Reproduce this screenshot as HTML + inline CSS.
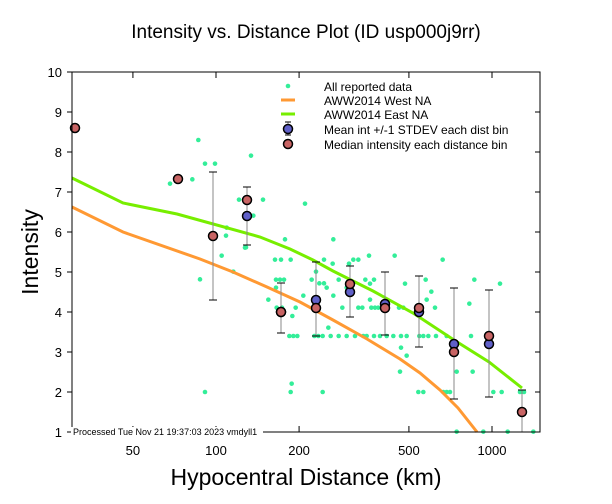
<!DOCTYPE html>
<html><head><meta charset="utf-8"><style>
html,body{margin:0;padding:0;background:#fff;}
svg{display:block;font-family:"Liberation Sans",sans-serif;}
</style></head><body>
<svg id="s" width="612" height="504" viewBox="0 0 612 504" xmlns="http://www.w3.org/2000/svg">
<rect width="612" height="504" fill="#fff"/>
<text x="306" y="38" font-size="19" text-anchor="middle">Intensity vs. Distance Plot (ID usp000j9rr)</text>
<text transform="translate(38,252) rotate(-90)" font-size="23" text-anchor="middle">Intensity</text>
<text x="306" y="485" font-size="23" text-anchor="middle">Hypocentral Distance (km)</text>
<g id="dots" fill="#33ee99"></g>
<polyline fill="none" stroke="#ff9933" stroke-width="3" points="72,207 123,232 200,259 233,272 267,287 300,302 333,320 367,339 400,359 420,373 440,390 458,408 477,432"/>
<polyline fill="none" stroke="#77ee00" stroke-width="3" points="72,178 123,203 177,214 260,237 290,249 313,260 333,271 373,291 413,313 454,340 489,362 522,388"/>
<g id="bars" stroke="#888" stroke-width="1"></g>
<g id="circ" stroke="#000" stroke-width="1.5"></g>
<g stroke="#000" stroke-width="1" fill="none" id="ax"></g>
<g font-size="13" id="lab"></g>
<rect x="71" y="427" width="192" height="10" fill="#fff"/>
<text x="73" y="435" font-size="9">Processed Tue Nov 21 19:37:03 2023 vmdyll1</text>
<g font-size="12">
<circle cx="288" cy="86" r="2.3" fill="#33ee99"/>
<line x1="281" y1="100" x2="295" y2="100" stroke="#ff9933" stroke-width="3"/>
<line x1="281" y1="114" x2="295" y2="114" stroke="#77ee00" stroke-width="3"/>
<line x1="288" y1="122" x2="288" y2="135" stroke="#888"/>
<line x1="285" y1="122" x2="291" y2="122" stroke="#000"/><line x1="285" y1="135" x2="291" y2="135" stroke="#000"/>
<circle cx="288" cy="129" r="4.5" fill="#6060c8" stroke="#000" stroke-width="1.5"/>
<circle cx="288" cy="144" r="4.5" fill="#c86464" stroke="#000" stroke-width="1.5"/>
<text x="324" y="91">All reported data</text>
<text x="324" y="105">AWW2014 West NA</text>
<text x="324" y="119">AWW2014 East NA</text>
<text x="324" y="134">Mean int +/-1 STDEV each dist bin</text>
<text x="324" y="149">Median intensity each distance bin</text>
</g>
</svg>
<script>
var NS="http://www.w3.org/2000/svg";
function el(p,t,a){var e=document.createElementNS(NS,t);for(var k in a)e.setAttribute(k,a[k]);document.getElementById(p).appendChild(e);return e;}
var z1=[[415,240],[435,311],[465,311],[330,371],[397,358],[573,287],[537,419],[609,419],[580,467],[735,431],[500,503],[555,563]];
z1.forEach(function(p){el("dots","circle",{cx:60+p[0]/3,cy:60+p[1]/3,r:2.3});});
var z2=[[65,77],[78,17],[138,52],[255,28],[225,89],[243,89],[272,89],[100,125],[0,148],[228,149],[240,149],[252,149],[228,173],[205,209],[230,233],[246,233],[277,258],[287,233],[310,197],[268,318],[280,318],[292,318],[348,125],[372,89],[398,101],[400,28],[335,149],[358,160],[372,160],[380,173],[416,149],[400,197],[385,293],[368,318],[392,318],[416,318],[343,318],[355,318],[440,318],[465,318],[490,318],[500,318],[522,318],[540,318],[560,318],[580,318],[603,318],[620,318],[658,318],[670,318],[685,318],[708,318],[740,318],[427,233],[440,173],[447,101],[460,89],[475,89],[475,233],[487,233],[496,149],[510,161],[522,149],[507,77],[510,209],[514,233],[525,233],[535,233],[545,233],[584,77],[597,233],[610,233],[615,161],[603,353],[620,377],[600,425],[677,149],[680,209],[705,233],[694,185],[728,89],[655,486],[670,486],[730,486],[740,486],[750,486],[770,425],[808,221],[813,318],[818,425],[823,149],[770,605],[850,605],[880,486],[905,486],[900,161],[960,486],[972,486],[923,605],[1000,605],[15,486],[275,461],[272,486],[368,486]];
z2.forEach(function(p){el("dots","circle",{cx:200+p[0]/3,cy:230+p[1]/3,r:2.3});});
var B=[[213,172,300],[247,187,245],[281,283,333],[316,262,336],[350,266,317],[385,272,335],[419,276,347],[454,288,399],[489,290,397],[522,390,432]];
B.forEach(function(b){el("bars","line",{x1:b[0],y1:b[1],x2:b[0],y2:b[2]});el("bars","line",{x1:b[0]-4,y1:b[1],x2:b[0]+4,y2:b[1],stroke:"#000"});el("bars","line",{x1:b[0]-4,y1:b[2],x2:b[0]+4,y2:b[2],stroke:"#000"});});
var M=[[247,216],[316,300],[350,292],[385,304],[419,312],[454,344],[489,344],[281,312]];
M.forEach(function(p){el("circ","circle",{cx:p[0],cy:p[1],r:4.5,fill:"#6060c8"});});
var D=[[75,128],[178,179],[213,236],[247,200],[281,312],[316,308],[350,284],[385,308],[419,308],[454,352],[489,336],[522,412]];
D.forEach(function(p){el("circ","circle",{cx:p[0],cy:p[1],r:4.5,fill:"#c86464"});});
el("ax","rect",{x:72,y:72,width:468,height:360});
for(var i=1;i<=10;i++){var y=432-(i-1)*40;el("ax","line",{x1:67,y1:y,x2:72,y2:y});el("ax","line",{x1:535,y1:y,x2:540,y2:y});var t=el("lab","text",{x:62,y:y+5,"text-anchor":"end"});t.textContent=i;}
[50,100,200,500,1000].forEach(function(d){var x=216+276*(Math.log10(d)-2);el("ax","line",{x1:x,y1:72,x2:x,y2:78});el("ax","line",{x1:x,y1:432,x2:x,y2:426});var t=el("lab","text",{x:x,y:455,"text-anchor":"middle"});t.textContent=d;});
</script>
</body></html>
